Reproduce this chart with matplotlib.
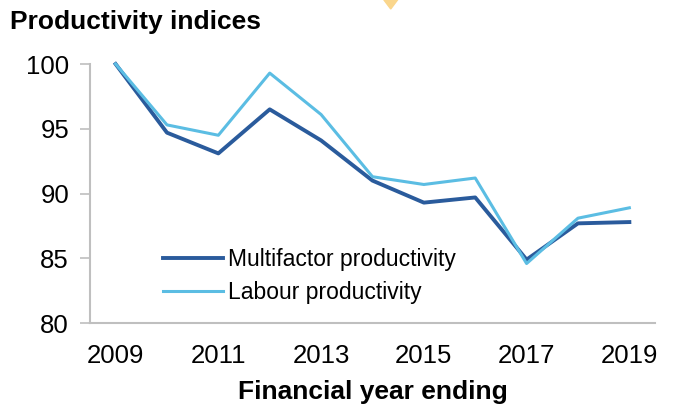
import matplotlib
matplotlib.use('Agg')
import matplotlib.pyplot as plt
from matplotlib.patches import Polygon

plt.rcParams['font.family'] = ['Liberation Sans', 'DejaVu Sans']

years = [2009, 2010, 2011, 2012, 2013, 2014, 2015, 2016, 2017, 2018, 2019]
multifactor = [100, 94.7, 93.1, 96.5, 94.1, 91.0, 89.3, 89.7, 84.9, 87.7, 87.8]
labour = [100, 95.3, 94.5, 99.3, 96.1, 91.3, 90.7, 91.2, 84.6, 88.1, 88.9]
x_ticks = [2009, 2011, 2013, 2015, 2017, 2019]
y_ticks = [80, 85, 90, 95, 100]

DARK = "#2A5B9C"
LIGHT = "#5BBDE3"
GREY = "#BFBFBF"

fig = plt.figure(figsize=(6.76, 4.09), dpi=100)
ax = fig.add_axes([0.133, 0.210, 0.836, 0.6335])

ax.plot(years, multifactor, color=DARK, lw=2.8, label="Multifactor productivity", clip_on=False)
ax.plot(years, labour, color=LIGHT, lw=2.2, label="Labour productivity", clip_on=False)

ax.set_xlim(2008.5, 2019.5)
ax.set_ylim(80, 100)
ax.set_xticks(x_ticks)
ax.set_yticks(y_ticks)
ax.tick_params(axis='x', length=0, labelsize=18.5, pad=15)
ax.tick_params(axis='y', length=7, color=GREY, width=1.2, labelsize=18.5, pad=8)

for side in ("top", "right"):
    ax.spines[side].set_visible(False)
for side in ("left", "bottom"):
    ax.spines[side].set_color(GREY)
    ax.spines[side].set_linewidth(1.5)

ax.set_xlabel("Financial year ending", fontsize=19, fontweight="bold", labelpad=9)

ax.legend(loc="lower left", bbox_to_anchor=(0.113, 0.04), frameon=False, fontsize=16.5,
          handlelength=2.6, handletextpad=0.26, labelspacing=0.4, borderaxespad=0)

fig.text(0.015, 0.945, "Productivity indices", fontsize=19, fontweight="bold", va="center")

# small cut-off yellow diamond at the top edge
fig.patches.append(Polygon([[0.568, 1.0], [0.578, 0.978], [0.588, 1.0], [0.578, 1.022]],
                           closed=True, transform=fig.transFigure, color="#FAD68C", zorder=5))

fig.savefig("out.png", dpi=100)
